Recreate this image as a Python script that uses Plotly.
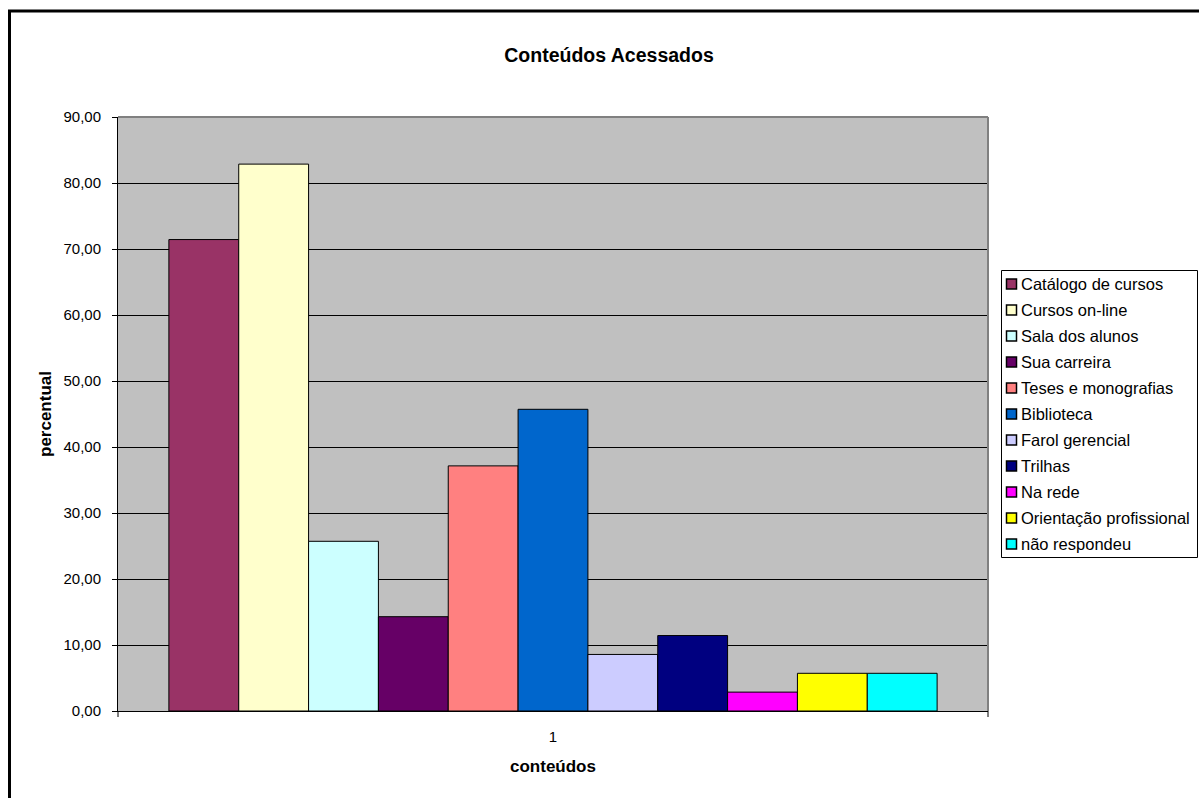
import plotly.graph_objects as go

categories = ["Catálogo de cursos", "Cursos on-line", "Sala dos alunos", "Sua carreira",
              "Teses e monografias", "Biblioteca", "Farol gerencial", "Trilhas",
              "Na rede", "Orientação profissional", "não respondeu"]
values = [71.43, 82.86, 25.71, 14.29, 37.14, 45.71, 8.57, 11.43, 2.86, 5.71, 5.71]
colors = ["#993366", "#FFFFCC", "#CCFFFF", "#660066", "#FF8080", "#0066CC",
          "#CCCCFF", "#000080", "#FF00FF", "#FFFF00", "#00FFFF"]
x_label = ["1"]
y_ticks = [0, 10, 20, 30, 40, 50, 60, 70, 80, 90]

W, H = 1199, 798
L, R, T, B = 118, 988, 117, 711

fig = go.Figure()
for name, v, c in zip(categories, values, colors):
    fig.add_trace(go.Bar(name=name, x=x_label, y=[v], showlegend=False,
                         marker=dict(color=c, line=dict(color="black", width=1))))

fig.update_layout(
    width=W, height=H,
    margin=dict(l=L, r=W - R, t=T, b=H - B, autoexpand=False),
    paper_bgcolor="white", plot_bgcolor="#C0C0C0",
    barmode="group", bargap=0.117, bargroupgap=0,
    separators=",.", showlegend=False,
    font=dict(family="Liberation Sans, Arial", size=15, color="black"),
    title=dict(text="<b>Conteúdos Acessados</b>", x=609 / W, xref="container", xanchor="center",
               y=1 - 55 / H, yref="container", yanchor="middle", font=dict(size=19.5)),
    xaxis=dict(title=dict(text="<b>conteúdos</b>", standoff=16, font=dict(size=17)),
               showline=True, linecolor="black", linewidth=1, mirror=False,
               ticks="", showgrid=False, tickfont=dict(size=15), ticklabelstandoff=12),
    yaxis=dict(title=dict(text="<b>percentual</b>", standoff=7, font=dict(size=17)),
               range=[0, 90], tickvals=y_ticks, tickformat=".2f",
               showline=True, linecolor="black", linewidth=1,
               ticks="outside", ticklen=5, tickcolor="black", ticklabelstandoff=8,
               showgrid=True, gridcolor="black", gridwidth=1, zeroline=False,
               tickfont=dict(size=15)),
)

def px(xp):
    return (xp - L) / (R - L)

def py(yp):
    return (B - yp) / (B - T)

# plot area border (top/right gray)
fig.add_shape(type="line", xref="paper", yref="paper", x0=0, x1=1, y0=1, y1=1,
              line=dict(color="#808080", width=2), layer="above")
fig.add_shape(type="line", xref="paper", yref="paper", x0=1, x1=1, y0=0, y1=1,
              line=dict(color="#808080", width=2), layer="above")
# x-axis boundary tick marks
for xp in (0, 1):
    fig.add_shape(type="line", xref="paper", yref="paper", x0=xp, x1=xp, y0=0, y1=-6 / (B - T),
                  line=dict(color="black", width=1))
# outer chart border
fig.add_shape(type="rect", xref="paper", yref="paper",
              x0=px(9.5), x1=px(W + 20), y0=py(H + 20), y1=py(11),
              line=dict(color="black", width=3), fillcolor="rgba(0,0,0,0)", layer="above")

# legend box
fig.add_shape(type="rect", xref="paper", yref="paper",
              x0=px(1001.5), x1=px(1197.5), y0=py(557.5), y1=py(270.5),
              line=dict(color="black", width=1), fillcolor="white", layer="above")
row0, step = 284, 26
for i, (name, c) in enumerate(zip(categories, colors)):
    yc = row0 + i * step
    fig.add_shape(type="rect", xref="paper", yref="paper",
                  x0=px(1006.5), x1=px(1016.5), y0=py(yc + 5), y1=py(yc - 5),
                  line=dict(color="black", width=1.5), fillcolor=c, layer="above")
    fig.add_annotation(text=name, xref="paper", yref="paper", x=px(1019), y=py(yc),
                       xanchor="left", yanchor="middle", showarrow=False,
                       font=dict(size=16.5, color="black"))

fig.write_html("out.html")
